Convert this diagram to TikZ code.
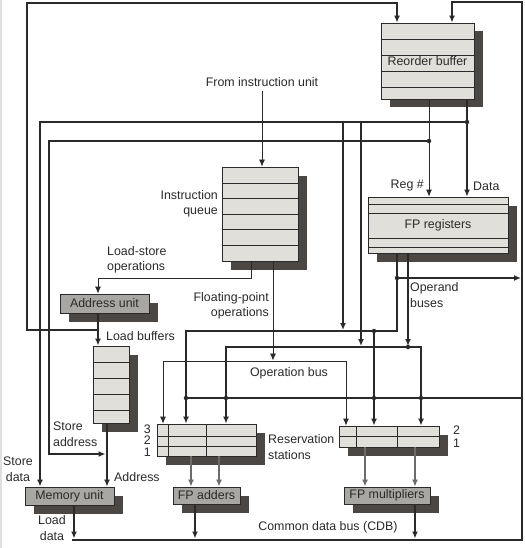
\documentclass[tikz,border=0pt]{standalone}
\usepackage{fontspec}
\setmainfont{Liberation Sans}
\usetikzlibrary{arrows.meta,shadows}
\definecolor{ink}{HTML}{2A2A2A}
\definecolor{paper}{HTML}{E1DFD9}
\definecolor{unitgray}{HTML}{A8A7A3}
\definecolor{shade}{HTML}{4A4745}
\definecolor{wire}{HTML}{6B6B6B}

\begin{document}
\begin{tikzpicture}[x=1pt,y=-1pt,>={Latex[length=7pt,width=6pt]}]
\tikzstyle{every node} = [font=\fontsize{12.4}{15.5}\selectfont, text=ink, inner sep=0pt]
\tikzstyle{buf} = [draw=ink, fill=paper, line width=0.8pt, general shadow={fill=shade, shadow xshift=9pt, shadow yshift=-8.5pt}]
\tikzstyle{unit} = [buf, fill=unitgray]
\tikzstyle{fine} = [draw=ink, line width=0.8pt]
\tikzstyle{mid} = [draw=ink, line width=1.8pt]
\tikzstyle{bus} = [draw=ink, line width=2.8pt]
\tikzstyle{feed} = [draw=wire, line width=1.4pt]
\tikzstyle{dot} = [circle, fill=ink, minimum size=4.5pt]

\useasboundingbox (0,0) rectangle (524,548);
\fill[white] (0,0) rectangle (524,548);
\draw[gray!25, line width=2pt] (1,0) -- (1,548);

\node [buf, minimum width=93pt, minimum height=76pt] (rob) at (427.5,61) {Reorder buffer};
\node [buf, minimum width=76pt, minimum height=94pt] (iq) at (260,214) {};
\node [buf, minimum width=140pt, minimum height=56pt] (fpr) at (438,225) {FP registers};
\node [unit, minimum width=89pt, minimum height=19pt] (au) at (104.5,303.5) {Address unit};
\node [buf, minimum width=36pt, minimum height=77pt] (lbuf) at (111,384.5) {};
\node [buf, minimum width=99pt, minimum height=32pt] (rsa) at (206.5,440) {};
\node [buf, minimum width=100pt, minimum height=21pt] (rsm) at (389,436.5) {};
\node [unit, minimum width=89pt, minimum height=18pt] (mem) at (69.5,496) {Memory unit};
\node [unit, minimum width=67pt, minimum height=17pt] (fpa) at (206.5,495.5) {FP adders};
\node [unit, minimum width=86pt, minimum height=17pt] (fpm) at (387,495.5) {FP multipliers};

\foreach \y in {39,55,71,87} \draw[fine] (rob.west |- 0,\y) -- (rob.east |- 0,\y);
\foreach \y in {183,198,214,229,245} \draw[fine] (iq.west |- 0,\y) -- (iq.east |- 0,\y);
\foreach \y in {204,213,238,247} \draw[fine] (fpr.west |- 0,\y) -- (fpr.east |- 0,\y);
\foreach \y in {362,378,394,410} \draw[fine] (lbuf.west |- 0,\y) -- (lbuf.east |- 0,\y);
\foreach \y in {436,446} \draw[fine] (rsa.west |- 0,\y) -- (rsa.east |- 0,\y);
\foreach \x in {168,206} \draw[fine] (rsa.north -| \x,0) -- (rsa.south -| \x,0);
\draw[fine] (rsm.west) -- (rsm.east);
\foreach \x in {356,397} \draw[fine] (rsm.north -| \x,0) -- (rsm.south -| \x,0);

\node (from) at (262,82) {From instruction unit};
\node [anchor=east, align=right] (iqlab) at (218,204) {Instruction\\queue};
\node [anchor=east] (reg) at (424,186) {Reg \#};
\node [anchor=west] (data) at (473,186) {Data};
\node [anchor=west, align=left] (lso) at (107,260) {Load-store\\operations};
\node [anchor=west, align=left] (opb) at (410,295) {Operand\\buses};
\node [anchor=east, align=right] (fpo) at (269,306) {Floating-point\\operations};
\node [anchor=west] (lblab) at (106,336) {Load buffers};
\node (oplab) at (289,373) {Operation bus};
\node [anchor=west, align=left] (rslab) at (268,447) {Reservation\\stations};
\node [anchor=east] (ra3) at (151,429) {3};
\node [anchor=east] (ra2) at (151,440) {2};
\node [anchor=east] (ra1) at (151,452) {1};
\node [anchor=west] (rm2) at (453,430) {2};
\node [anchor=west] (rm1) at (453,443) {1};
\node [anchor=west, align=left] (salab) at (53,434) {Store\\address};
\node [align=center] (sdlab) at (18,469) {Store\\data};
\node [anchor=west] (adlab) at (114,477) {Address};
\node [align=center] (ldlab) at (52,528) {Load\\data};
\node (cdblab) at (328,527) {Common data bus (CDB)};

\coordinate (a1) at (98,330);
\coordinate (t1) at (27,3);
\coordinate (t2) at (397,3);
\coordinate (q1) at (251,278);
\coordinate (q2) at (273,361);
\coordinate (o1) at (163,361);
\coordinate (o2) at (346,361);
\coordinate (l1) at (107,454);
\coordinate (c1) at (72,540);
\coordinate (c2) at (522,540);
\coordinate (c3) at (522,2);
\coordinate (c4) at (452,2);
\coordinate (c5) at (522,398);
\coordinate (c6) at (186,398);
\coordinate (r1) at (429,141);
\coordinate (r2) at (467,122);
\coordinate (s1) at (40,122);
\coordinate (s2) at (49,141);
\coordinate (v1) at (343,122);
\coordinate (v2) at (361,122);
\coordinate (b1) at (343,331);
\coordinate (b2) at (361,347);
\coordinate (f1) at (397,331);
\coordinate (f2) at (408,347);
\coordinate (f3) at (397,278);
\coordinate (f4) at (521,278);
\coordinate (m1) at (374,331);
\coordinate (k1) at (226,347);
\coordinate (k2) at (421,347);

\draw [fine,->, shorten <=4pt] (from.south) -- (iq.north -| from.south);
\draw [fine,->] (iq.south -| q1) -- (q1) -| (au.north -| a1);
\draw [fine,->, shorten >=0.5pt] (iq.south -| q2) -- (q2);
\draw [fine,<->] (rsa.north -| o1) -- (o1) -- (o2) -- (rsm.north -| o2);

\draw [bus,->] (au.south -| a1) -- (lbuf.north -| a1);
\draw [bus,->] (lbuf.south -| l1) -- (mem.north -| l1);
\draw [bus,->] (a1) -| (t1) -- (t2) -- (rob.north -| t2);

\draw [mid,->] (c1) -- (c2) -- (c3) -- (c4) -- (rob.north -| c4);
\draw [mid] (c5) -- (c6);

\draw [fine,->] (rob.south -| r1) -- (fpr.north -| r1);
\draw [bus,->] (rob.south -| r2) -- (fpr.north -| r2);
\draw [bus,->] (r2) -- (s1) -- (mem.north -| s1);
\draw [bus,->, shorten >=1.5pt] (r1) -- (s2) |- (l1);
\draw [bus,->, shorten >=1pt] (v1) -- (b1);
\draw [bus,->, shorten >=1pt] (v2) -- (b2);

\draw [mid,->] (fpr.south -| f1) -- (f1) -| (rsa.north -| c6);
\draw [bus,->] (f3) -- (f4);
\draw [mid,->] (m1) -- (rsm.north -| m1);
\draw [bus,->, shorten >=1pt] (fpr.south -| f2) -- (f2);
\draw [mid,<->] (rsa.north -| k1) -- (k1) -- (k2) -- (rsm.north -| k2);

\foreach \x in {191,219} \draw[feed,->] (rsa.south -| \x,0) -- (fpa.north -| \x,0);
\foreach \x in {365,415} \draw[feed,->] (rsm.south -| \x,0) -- (fpm.north -| \x,0);
\draw [bus,->, shorten >=1.5pt] (mem.south -| 74,0) -- (74,0 |- c1);
\draw [bus,->, shorten >=1.5pt] (fpa.south -| 195,0) -- (195,0 |- c1);
\draw [bus,->, shorten >=1.5pt] (fpm.south -| 415,0) -- (415,0 |- c1);

\foreach \p in {r1,r2,f3,m1,f2} \node[dot] at (\p) {};
\foreach \x in {186,226,374,421} \node[dot] at (\x,398) {};
\end{tikzpicture}
\end{document}
